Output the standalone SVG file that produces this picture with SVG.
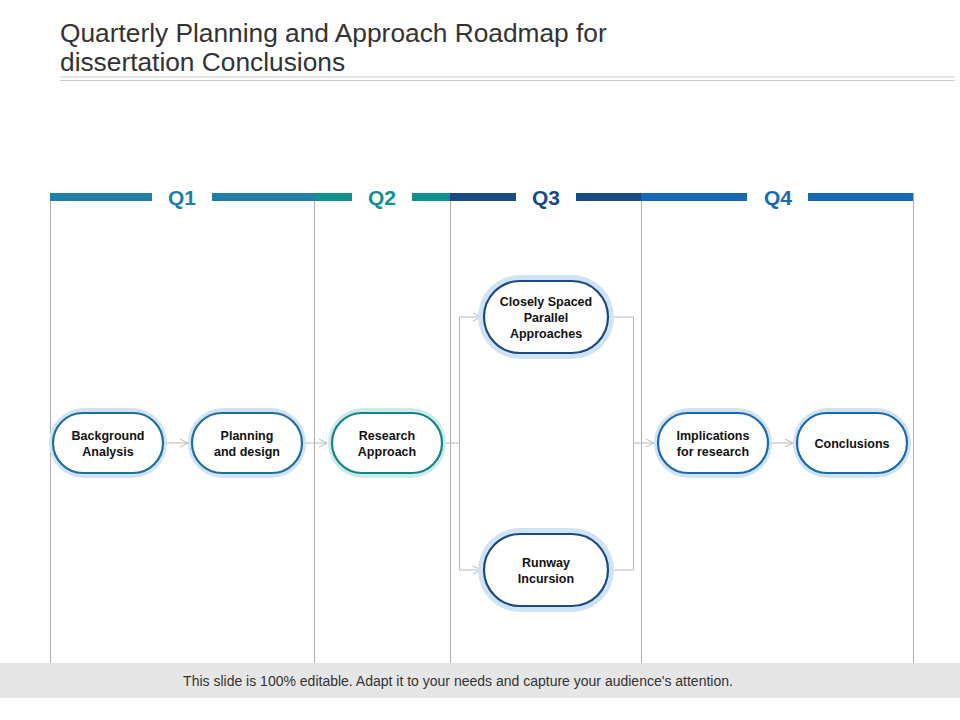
<svg xmlns="http://www.w3.org/2000/svg" width="960" height="720" viewBox="0 0 960 720">
<style>
text{font-family:"Liberation Sans",Arial,sans-serif}
.t{font-size:12.5px;font-weight:bold;fill:#111;text-anchor:middle}
.q{font-size:21px;font-weight:bold;text-anchor:middle}
.v{stroke:#b0b0b0;stroke-width:1}
.c{stroke:#b8b8b8;stroke-width:1;fill:none}
.glow{fill:#cfe3f3}
.gt{fill:#cdeaea}
.in{fill:#fff;stroke-width:2.2}
</style>
<defs>
<marker id="a" markerWidth="10" markerHeight="10" refX="9" refY="5" orient="auto" markerUnits="userSpaceOnUse"><path d="M1,1 L9,5 L1,9" fill="none" stroke="#b8b8b8"/></marker>
</defs>
<rect width="960" height="720" fill="#fff"/>
<text x="60" y="42" font-size="26.3" fill="#333">Quarterly Planning and Approach Roadmap for</text>
<text x="60" y="71" font-size="26.3" fill="#333">dissertation Conclusions</text>
<line x1="60" y1="77" x2="955" y2="77" stroke="#ccc"/>
<line x1="60" y1="80.5" x2="955" y2="80.5" stroke="#ccc"/>
<g id="lanes">
<line class="v" x1="50.5" y1="193" x2="50.5" y2="663"/>
<line class="v" x1="314.5" y1="193" x2="314.5" y2="663"/>
<line class="v" x1="450.5" y1="193" x2="450.5" y2="663"/>
<line class="v" x1="641.5" y1="193" x2="641.5" y2="663"/>
<line class="v" x1="913.5" y1="193" x2="913.5" y2="663"/>
<rect x="50" y="193" width="102" height="8" fill="#1f7fa8"/>
<rect x="212" y="193" width="102" height="8" fill="#1f7fa8"/>
<text class="q" x="182" y="205" fill="#1f7fa8">Q1</text>
<rect x="314" y="193" width="38" height="8" fill="#12908f"/>
<rect x="412" y="193" width="38" height="8" fill="#12908f"/>
<text class="q" x="382" y="205" fill="#12908f">Q2</text>
<rect x="450" y="193" width="66" height="8" fill="#1a4a86"/>
<rect x="576" y="193" width="65" height="8" fill="#1a4a86"/>
<text class="q" x="546" y="205" fill="#1a4a86">Q3</text>
<rect x="641" y="193" width="106" height="8" fill="#1769b5"/>
<rect x="808" y="193" width="105" height="8" fill="#1769b5"/>
<text class="q" x="778" y="205" fill="#1769b5">Q4</text>
</g>
<g id="connectors">
<line class="c" x1="164" y1="443" x2="188" y2="443" marker-end="url(#a)"/>
<line class="c" x1="303" y1="443" x2="327" y2="443" marker-end="url(#a)"/>
<path class="c" d="M444,443 H459.5 V317"/>
<path class="c" d="M459.5,443 V570"/>
<line class="c" x1="459" y1="317" x2="481" y2="317" marker-end="url(#a)"/>
<line class="c" x1="459" y1="570" x2="481" y2="570" marker-end="url(#a)"/>
<path class="c" d="M608,317 H633.5 V570 H608"/>
<line class="c" x1="633" y1="443" x2="654" y2="443" marker-end="url(#a)"/>
<line class="c" x1="769" y1="443" x2="793" y2="443" marker-end="url(#a)"/>
</g>
<g id="n1"><rect class="glow" x="49" y="408" width="118" height="70" rx="35"/><rect class="in" x="53" y="413" width="110" height="60" rx="30" stroke="#1f6f9c"/><text class="t" x="108" y="440">Background</text><text class="t" x="108" y="456">Analysis</text></g>
<g id="n2"><rect class="glow" x="188" y="408" width="118" height="70" rx="35"/><rect class="in" x="192" y="413" width="110" height="60" rx="30" stroke="#1f6f9c"/><text class="t" x="247" y="440">Planning</text><text class="t" x="247" y="456">and design</text></g>
<g id="n3"><rect class="gt" x="328" y="408" width="118" height="70" rx="35"/><rect class="in" x="332" y="413" width="110" height="60" rx="30" stroke="#138484"/><text class="t" x="387" y="440">Research</text><text class="t" x="387" y="456">Approach</text></g>
<g id="n4"><rect class="glow" x="478" y="275" width="136" height="84" rx="42"/><rect class="in" x="484" y="281" width="124" height="72" rx="36" stroke="#1a4a86"/><text class="t" x="546" y="306">Closely  Spaced</text><text class="t" x="546" y="322">Parallel</text><text class="t" x="546" y="338">Approaches</text></g>
<g id="n5"><rect class="glow" x="478" y="528" width="136" height="84" rx="42"/><rect class="in" x="484" y="534" width="124" height="72" rx="36" stroke="#1a4a86"/><text class="t" x="546" y="567">Runway</text><text class="t" x="546" y="583">Incursion</text></g>
<g id="n6"><rect class="glow" x="654" y="408" width="118" height="70" rx="35"/><rect class="in" x="658" y="413" width="110" height="60" rx="30" stroke="#1769b5"/><text class="t" x="713" y="440">Implications</text><text class="t" x="713" y="456">for research</text></g>
<g id="n7"><rect class="glow" x="793" y="408" width="118" height="70" rx="35"/><rect class="in" x="797" y="413" width="110" height="60" rx="30" stroke="#1769b5"/><text class="t" x="852" y="448">Conclusions</text></g>
<rect x="0" y="663" width="960" height="35" fill="#e6e6e6"/>
<text x="458" y="686" font-size="14" fill="#333" text-anchor="middle">This slide is 100% editable. Adapt it to your needs and capture your audience's attention.</text>
</svg>
